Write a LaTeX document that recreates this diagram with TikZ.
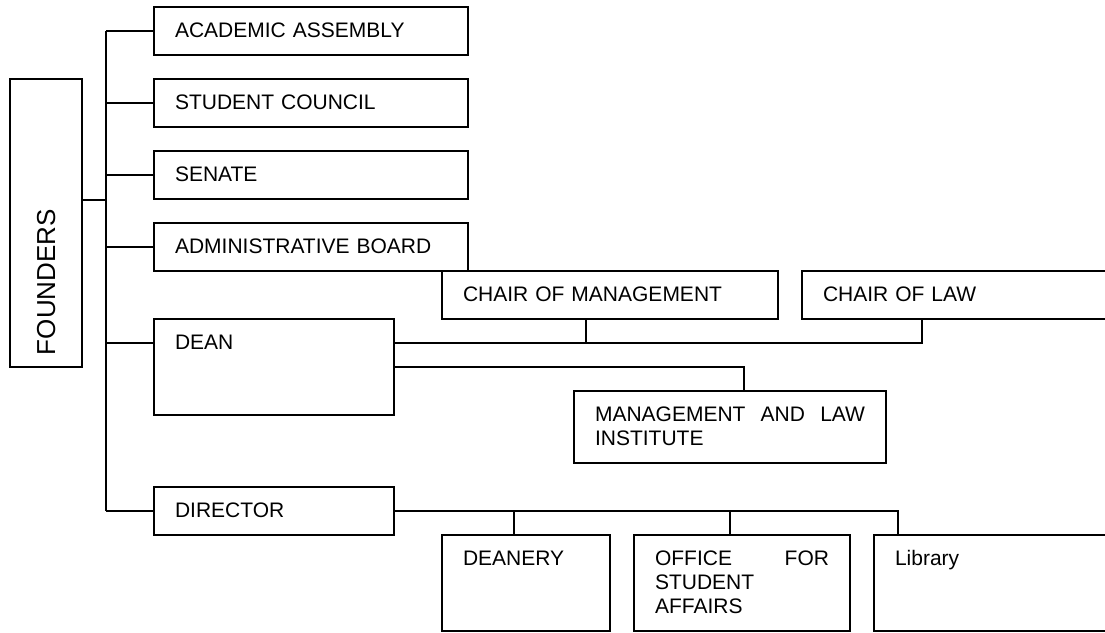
\documentclass[tikz,border=0pt]{standalone}
\usepackage{fontspec}
\setmainfont{Liberation Sans}
\usetikzlibrary{
	calc,
	positioning,
}
\newcommand{\orgfont}{\fontsize{21}{24}\selectfont}
\tikzset{org box/.style={draw,rectangle,anchor=north west,outer sep=0pt,inner xsep=21pt,inner ysep=0pt,text height=30pt,text depth=18pt,align=left,font=\orgfont,line width=1.6pt,}}
\tikzset{tall/.style={text depth=66pt,}}
\tikzset{link/.style={line width=1.6pt,}}
\tikzset{
	x=1pt,
	y=-1pt,
}

\begin{document}
\begin{tikzpicture}
\clip (0,0) rectangle (1105,632);

\node[org box,rotate=90,anchor=center,inner xsep=12pt,text width=264pt,text height=45pt,text depth=27pt,font=\fontsize{26}{30}\selectfont] (founders) at (46,223) {FOUNDERS};

\node[org box,text width=272pt] (acad) at (154,7) {ACADEMIC ASSEMBLY};
\node[org box,text width=272pt] (stud) at (154,79) {STUDENT COUNCIL};
\node[org box,text width=272pt] (sen) at (154,151) {SENATE};
\node[org box,text width=272pt] (adm) at (154,223) {ADMINISTRATIVE BOARD};
\node[org box,tall,text width=198pt] (dean) at (154,319) {DEAN};
\node[org box,text width=198pt] (dir) at (154,487) {DIRECTOR};

\node[org box,text width=294pt] (cm) at (442,271) {CHAIR OF MANAGEMENT};
\node[org box,text width=298pt] (cl) at (802,271) {CHAIR OF LAW};
\node[org box,text width=270pt,text depth=42pt] (mli) at (574,391) {MANAGEMENT\hfill AND\hfill LAW\\INSTITUTE};

\node[org box,tall,text width=126pt] (dnry) at (442,535) {DEANERY};
\node[org box,tall,text width=174pt] (osa) at (634,535) {OFFICE\hfill FOR\\STUDENT\\AFFAIRS};
\node[org box,tall,text width=218pt] (lib) at (874,535) {Library};

% trunk from the founders
\draw[link] ($(founders.south)+(0,-23)$) -- ++(24,0);
\draw[link] ($(acad.west)+(-48,0)$) -- ($(dir.west)+(-48,0)$);
\foreach \n in {acad,stud,sen,adm,dir}
	\draw[link] (\n.west) -- ++(-48,0);
\draw[link] ($(dean.north west)+(0,24)$) -- ++(-48,0);

% dean
\draw[link] ($(dean.north east)+(0,24)$) -| ($(cl.south west)+(120,0)$);
\draw[link] ($(cm.south west)+(144,0)$) -- ++(0,24);
\draw[link] ($(dean.north east)+(0,48)$) -| ($(mli.north west)+(170,0)$);

% director
\draw[link] (dir.east) -| ($(lib.north west)+(24,0)$);
\draw[link] ($(dnry.north west)+(72,0)$) -- ++(0,-24);
\draw[link] ($(osa.north west)+(96,0)$) -- ++(0,-24);

\end{tikzpicture}
\end{document}
